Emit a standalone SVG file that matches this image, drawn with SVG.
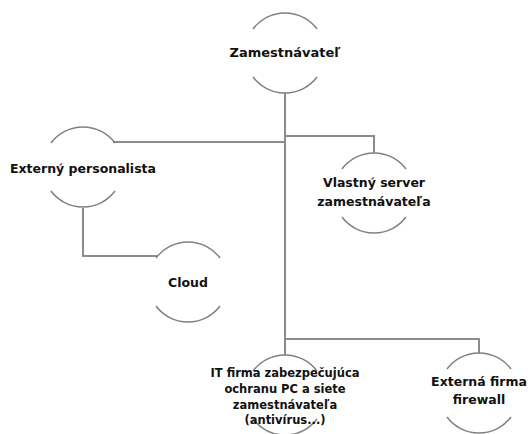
<svg xmlns="http://www.w3.org/2000/svg" width="528" height="434" viewBox="0 0 528 434">
<style>
.arc{fill:none;stroke:#808080;stroke-width:1.5}
.con{fill:none;stroke:#8c8c8c;stroke-width:2}
.t{font-family:"DejaVu Sans",sans-serif;font-weight:bold;font-size:12.5px;fill:#111111;text-anchor:middle}
.s{font-size:11.5px}
.l{font-size:13px}
</style>
<rect width="528" height="434" fill="#ffffff"/>
<g id="connectors">
<path class="con" d="M285,93 V355"/>
<path class="con" d="M113,142 H285"/>
<path class="con" d="M285,136 H374 V153"/>
<path class="con" d="M83,208 V256 H157"/>
<path class="con" d="M285,339 H479 V353"/>
</g>
<g id="n-zamestnavatel">
<path class="arc" d="M253,29 A40,40 0 0 1 317,29"/>
<path class="arc" d="M253,77 A40,40 0 0 0 317,77"/>
<text class="t l" x="285" y="57">Zamestnávateľ</text>
</g>
<g id="n-externy">
<path class="arc" d="M51,143 A40,40 0 0 1 115,143"/>
<path class="arc" d="M51,191 A40,40 0 0 0 115,191"/>
<text class="t" x="83" y="173">Externý personalista</text>
</g>
<g id="n-vlastny">
<path class="arc" d="M342,169 A40,40 0 0 1 406,169"/>
<path class="arc" d="M342,217 A40,40 0 0 0 406,217"/>
<text class="t" x="374" y="187">Vlastný server</text>
<text class="t" x="374" y="206">zamestnávateľa</text>
</g>
<g id="n-cloud">
<path class="arc" d="M156,258 A40,40 0 0 1 220,258"/>
<path class="arc" d="M156,306 A40,40 0 0 0 220,306"/>
<text class="t" x="188" y="287">Cloud</text>
</g>
<g id="n-it">
<path class="arc" d="M253,371 A40,40 0 0 1 317,371"/>
<path class="arc" d="M253,419 A40,40 0 0 0 317,419"/>
<text class="t s" x="285" y="377">IT firma zabezpečujúca</text>
<text class="t s" x="285" y="393">ochranu PC a siete</text>
<text class="t s" x="285" y="409">zamestnávateľa</text>
<text class="t s" x="285" y="424">(antivírus...)</text>
</g>
<g id="n-externa">
<path class="arc" d="M447,369 A40,40 0 0 1 511,369"/>
<path class="arc" d="M447,417 A40,40 0 0 0 511,417"/>
<text class="t" x="479" y="386">Externá firma</text>
<text class="t" x="479" y="404">firewall</text>
</g>
</svg>
